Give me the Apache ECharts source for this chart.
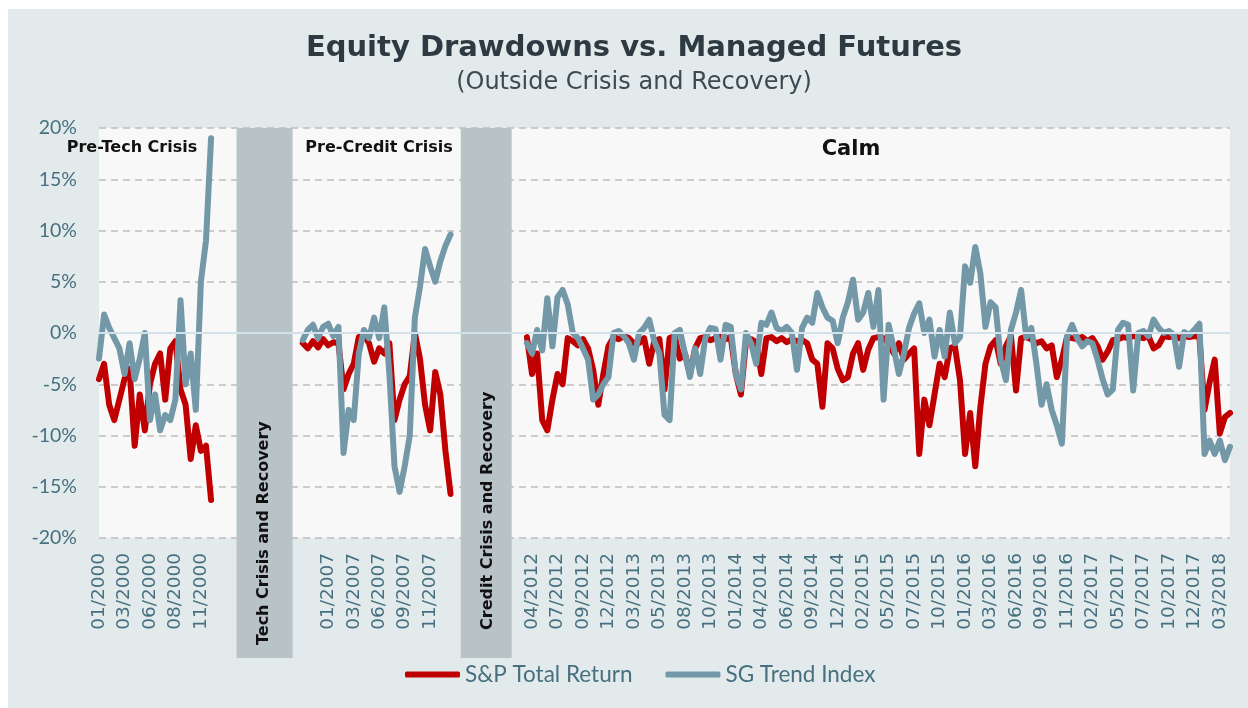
<!DOCTYPE html>
<html><head><meta charset="utf-8">
<script src="https://cdn.jsdelivr.net/npm/echarts@6/dist/echarts.min.js"></script>
<style>
html,body{margin:0;padding:0;background:#ffffff;width:1248px;height:708px;overflow:hidden}
#c{position:absolute;left:8px;top:9px;width:1240px;height:699px;}
</style>
</head><body><div id="c"></div>
<script>
// ---- data (percent) ----
const spPreTech = [-4.5,-3,-7,-8.5,-6.5,-4.5,-3.5,-11,-6,-9.5,-5,-3,-2,-6.5,-1.5,-0.8,-5.5,-7,-12.3,-9,-11.5,-11,-16.3];
const sgPreTech = [-2.5,1.8,0.5,-0.5,-1.5,-4,-1,-4.5,-2.5,0,-8.5,-6,-9.5,-8,-8.5,-6.5,3.2,-5,-2,-7.5,5,9,19];

const spPreCredit = [-1.0,-1.5,-0.8,-1.4,-0.6,-1.2,-0.9,-1.0,-5.5,-4.0,-3.0,-0.4,-0.2,-1.0,-2.8,-1.5,-2.0,-1.0,-8.5,-6.5,-5.0,-4.2,0.0,-2.5,-7.0,-9.5,-3.8,-6.0,-11.5,-15.7];
const sgPreCredit = [-0.7,0.3,0.8,-0.5,0.6,0.9,-0.3,0.6,-11.7,-7.5,-8.5,-2,0.3,-0.5,1.5,-0.5,2.5,-4,-13,-15.5,-13,-10,1.5,4.5,8.2,6.5,5,7,8.5,9.6];

const spCalm = [
 -0.4,-4.0,-2.0,-8.5,-9.5,-6.5,-4.0,-5.0,-0.5,-0.8,
 -1.2,-0.6,-1.5,-3.6,-7.0,-4.0,-1.3,-0.4,-0.6,-0.3,
 -0.5,-1.0,-1.0,-0.5,-3.0,-0.8,-0.6,-5.5,-0.5,-0.3,
 -2.5,-2.0,-4.0,-1.5,-0.5,-0.4,-0.7,-0.5,-0.3,-0.6,
 -0.4,-4.0,-6.0,-0.8,-0.6,-0.9,-4.0,-0.5,-0.4,-0.8,
 -0.5,-0.9,-0.6,-0.8,-0.7,-1.0,-2.6,-3.0,-7.2,-1.0,
 -1.5,-3.5,-4.6,-4.3,-2.0,-1.0,-3.6,-1.6,-0.5,-0.4,
 -0.5,-1.0,-2.0,-1.0,-2.6,-2.0,-1.5,-11.8,-6.5,-9.0,
 -6.0,-3.0,-4.3,-1.5,-1.3,-4.6,-11.8,-7.8,-13.0,-7.2,
 -3.0,-1.3,-0.7,-3.0,-1.3,-0.3,-5.6,-0.5,-0.4,-0.6,
 -1.0,-0.8,-1.5,-1.2,-4.3,-2.6,-0.4,-0.5,-0.6,-0.4,
 -0.8,-0.5,-1.3,-2.6,-1.8,-0.7,-0.6,-0.4,-0.5,-0.3,
 -0.4,-0.5,-0.3,-1.5,-1.2,-0.3,-0.4,-0.3,-0.5,-0.3,
 -0.4,-0.3,-0.4,-7.5,-4.8,-2.6,-9.8,-8.2,-7.8];
const sgCalm = [
 -1.0,-2.0,0.3,-1.7,3.4,-1.3,3.5,4.2,2.8,0.0,
 -0.5,-1.5,-2.6,-6.5,-6.0,-5.0,-4.3,0.0,0.2,-0.3,
 -1.0,-2.6,0.0,0.5,1.3,-0.8,-2.0,-8.0,-8.5,0.0,
 0.3,-2.0,-4.3,-1.5,-4.0,-0.5,0.5,0.4,-2.6,0.8,
 0.6,-4.0,-5.5,0.0,-1.0,-3.0,1.0,0.8,2.0,0.5,
 0.2,0.6,0.0,-3.6,0.5,1.5,1.0,3.9,2.5,1.5,
 1.2,-1.0,1.5,3.0,5.2,1.3,2.0,3.9,0.6,4.2,
 -6.5,0.8,-1.5,-4.0,-2.0,0.5,1.9,2.9,0.0,1.3,
 -2.3,0.3,-2.3,2.0,-1.0,-0.4,6.5,4.9,8.4,5.8,
 0.6,3.0,2.5,-2.6,-4.6,0.3,2.0,4.2,-0.4,0.5,
 -3.0,-7.0,-5.0,-7.5,-9.0,-10.8,-0.4,0.8,-0.5,-1.3,
 -0.8,-1.0,-2.6,-4.5,-6.0,-5.5,0.3,1.0,0.8,-5.6,
 0.0,0.2,-0.3,1.3,0.5,0.0,0.2,-0.2,-3.3,0.1,
 -0.2,0.3,0.9,-11.8,-10.5,-11.8,-10.5,-12.4,-11.1];

// empty category slots for the crisis periods
const gapTechLen = 17;
const gapCreditLen = 14;

// tick labels
const tickPreTech = ['01/2000','03/2000','06/2000','08/2000','11/2000'];
const tickPreCredit = ['01/2007','03/2007','06/2007','09/2007','11/2007'];
const tickCalm = ['04/2012','07/2012','09/2012','12/2012','03/2013','05/2013','08/2013','10/2013',
 '01/2014','04/2014','06/2014','09/2014','12/2014','02/2015','05/2015','07/2015','10/2015',
 '01/2016','03/2016','06/2016','09/2016','11/2016','02/2017','05/2017','07/2017','10/2017',
 '12/2017','03/2018'];

// crisis band extents (category slots)
const techBand = [27, 38];
const creditBand = [71, 81];

// ---- build ----
const nulls = k => new Array(k).fill(null);
const spAll = spPreTech.concat(nulls(gapTechLen), spPreCredit, nulls(gapCreditLen), spCalm);
const sgAll = sgPreTech.concat(nulls(gapTechLen), sgPreCredit, nulls(gapCreditLen), sgCalm);
const cats = spAll.map((_, i) => 'w' + i);
const startPreCredit = spPreTech.length + gapTechLen;
const startCalm = startPreCredit + spPreCredit.length + gapCreditLen;
const labelStep = 5;
const labelAt = {};
tickPreTech.forEach((t, j) => { labelAt[labelStep * j] = t; });
tickPreCredit.forEach((t, j) => { labelAt[startPreCredit + 5 + labelStep * j] = t; });
tickCalm.forEach((t, j) => { labelAt[startCalm + 1 + labelStep * j] = t; });

const RED = '#c00000', BLUE = '#7398a8', LBL = '#46707f';

const chart = echarts.init(document.getElementById('c'), null, {renderer: 'canvas'});
chart.setOption({
  backgroundColor: '#e3eaec',
  animation: false,
  grid: [
    {left: 91, right: 18, top: 119, bottom: 170, show: true, backgroundColor: '#f8f8f8', borderWidth: 0, containLabel: false},
    {left: 91, right: 18, top: 119, bottom: 50, show: false, containLabel: false}
  ],
  xAxis: [
    {type: 'category', gridIndex: 0, data: cats, boundaryGap: false,
     axisLine: {show: false}, axisTick: {show: false}, splitLine: {show: false},
     axisLabel: {interval: 0, rotate: 90, margin: 15, color: LBL, fontFamily: 'DejaVu Sans', fontSize: 18.5,
       formatter: (v, i) => labelAt[i] || ''}},
    {type: 'category', gridIndex: 1, data: cats, boundaryGap: false, show: false}
  ],
  yAxis: [
    {type: 'value', gridIndex: 0, min: -20, max: 20, interval: 5,
     axisLine: {show: false}, axisTick: {show: false},
     axisLabel: {margin: 22, color: LBL, fontFamily: 'Lato', fontSize: 19.5, formatter: v => v + '%'},
     splitLine: {show: true, lineStyle: {color: '#bdbdbd', width: 1.5, type: [7, 5]}}},
    {type: 'value', gridIndex: 1, min: 0, max: 1, show: false}
  ],
  legend: {
    data: ['S&P Total Return', 'SG Trend Index'],
    left: 392, top: 649, icon: 'roundRect', itemWidth: 55, itemHeight: 6, itemGap: 33,
    textStyle: {color: LBL, fontFamily: 'Lato', fontSize: 22.5}
  },
  graphic: [
    {type: 'text', x: 626, y: 39, style: {text: 'Equity Drawdowns vs. Managed Futures', fill: '#2d3a41',
      font: 'bold 29px "DejaVu Sans"', textAlign: 'center', textVerticalAlign: 'middle'}},
    {type: 'text', x: 626, y: 74, style: {text: '(Outside Crisis and Recovery)', fill: '#3c4a51',
      font: '24px "DejaVu Sans"', textAlign: 'center', textVerticalAlign: 'middle'}},
    {type: 'text', x: 124, y: 139, z: 10, style: {text: 'Pre-Tech Crisis', fill: '#111',
      font: 'bold 16px "DejaVu Sans"', textAlign: 'center', textVerticalAlign: 'middle'}},
    {type: 'text', x: 371, y: 139, z: 10, style: {text: 'Pre-Credit Crisis', fill: '#111',
      font: 'bold 16px "DejaVu Sans"', textAlign: 'center', textVerticalAlign: 'middle'}},
    {type: 'text', x: 843, y: 141, z: 10, style: {text: 'Calm', fill: '#111',
      font: 'bold 21px "DejaVu Sans"', textAlign: 'center', textVerticalAlign: 'middle'}},
    {type: 'text', x: 256, y: 636, rotation: Math.PI / 2, z: 10, style: {text: 'Tech Crisis and Recovery', fill: '#111',
      font: 'bold 16px "DejaVu Sans"', textAlign: 'left', textVerticalAlign: 'middle'}},
    {type: 'text', x: 480, y: 621, rotation: Math.PI / 2, z: 10, style: {text: 'Credit Crisis and Recovery', fill: '#111',
      font: 'bold 16px "DejaVu Sans"', textAlign: 'left', textVerticalAlign: 'middle'}}
  ],
  series: [
    {type: 'line', name: 'zero', xAxisIndex: 0, yAxisIndex: 0, data: [], z: 1, silent: true,
     markLine: {silent: true, symbol: 'none', label: {show: false}, animation: false,
       lineStyle: {color: '#d3e2ea', width: 2, type: 'solid'}, data: [{yAxis: 0}]}},
    {type: 'line', name: 'bands', xAxisIndex: 1, yAxisIndex: 1, data: [], z: 2, silent: true,
     markArea: {silent: true, itemStyle: {color: '#b8c3c8'}, label: {show: false},
       data: [[{xAxis: techBand[0]}, {xAxis: techBand[1]}], [{xAxis: creditBand[0]}, {xAxis: creditBand[1]}]]}},
    {type: 'line', name: 'S&P Total Return', data: spAll, symbol: 'none', showSymbol: false, z: 3,
     lineStyle: {color: RED, width: 6, join: 'round', cap: 'round'}, itemStyle: {color: RED}},
    {type: 'line', name: 'SG Trend Index', data: sgAll, symbol: 'none', showSymbol: false, z: 4,
     lineStyle: {color: BLUE, width: 6, join: 'round', cap: 'round'}, itemStyle: {color: BLUE}}
  ]
});
</script>
</body></html>
